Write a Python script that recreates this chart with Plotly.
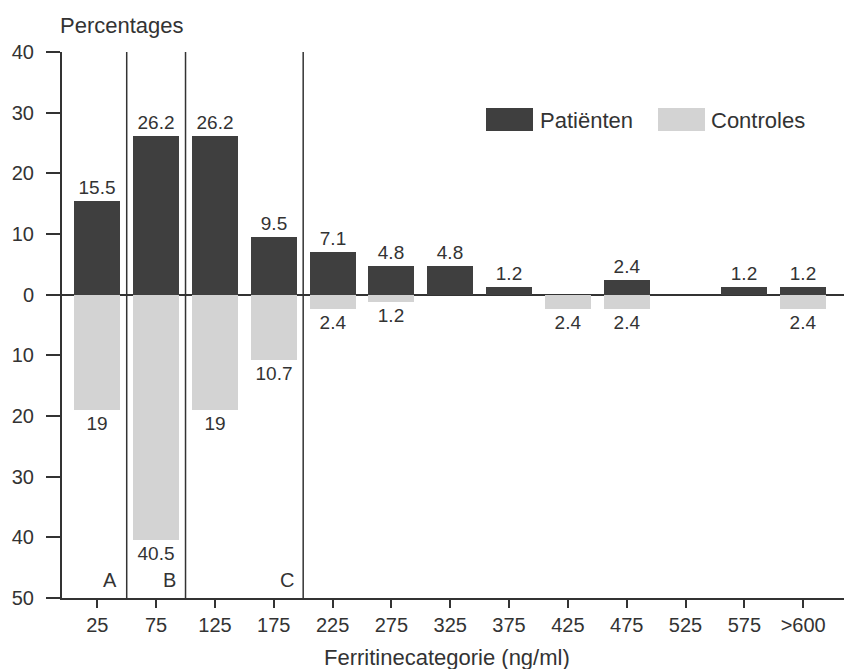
import plotly.graph_objects as go

categories = ["25", "75", "125", "175", "225", "275", "325", "375", "425", "475", "525", "575", ">600"]
patienten = [15.5, 26.2, 26.2, 9.5, 7.1, 4.8, 4.8, 1.2, 0, 2.4, 0, 1.2, 1.2]
controles = [19, 40.5, 19, 10.7, 2.4, 1.2, 0, 0, 2.4, 2.4, 0, 0, 2.4]
y_tickvals = [40, 30, 20, 10, 0, -10, -20, -30, -40, -50]
y_ticktext = ["40", "30", "20", "10", "0", "10", "20", "30", "40", "50"]
groups = ["A", "B", "C"]
group_bounds = [0.5, 1.5, 3.5]

OFF = 8  # page body margin
W, H = 852 - OFF, 669 - OFF
ML, MR, MT = 62 - OFF, 0, 52 - OFF
MB = H - (598 - OFF)
PW, PH = W - ML - MR, H - MT - MB

def fmt(v):
    if v == 0:
        return ""
    return ("%g" % v)

xs = list(range(len(categories)))
INK = "#333333"
FONT = "Liberation Sans, Arial, sans-serif"
NUM = 19
TICK = 20
WORD = 22

fig = go.Figure()
fig.add_trace(go.Bar(x=xs, y=patienten, width=0.78, marker=dict(color="#3f3f3f", line=dict(width=0)),
                     text=[fmt(v) for v in patienten], textposition="outside",
                     textfont=dict(size=NUM, color=INK, family=FONT), cliponaxis=False,
                     name="Patiënten", showlegend=False, opacity=1))
fig.add_trace(go.Bar(x=xs, y=[-v for v in controles], width=0.78, marker=dict(color="#d3d3d3", line=dict(width=0)),
                     text=[fmt(v) for v in controles], textposition="outside",
                     textfont=dict(size=NUM, color=INK, family=FONT), cliponaxis=False,
                     name="Controles", showlegend=False, opacity=1))

shapes = []
for b in group_bounds:
    shapes.append(dict(type="line", xref="x", yref="y", x0=b, x1=b, y0=-50, y1=40,
                       line=dict(color=INK, width=1.5)))

def px2paper_x(p):
    return (p - OFF - ML) / PW

def px2paper_y(p):
    return (H - MB - (p - OFF)) / PH

# legend swatches
shapes.append(dict(type="rect", xref="paper", yref="paper",
                   x0=px2paper_x(486), x1=px2paper_x(533), y0=px2paper_y(131), y1=px2paper_y(108),
                   fillcolor="#3f3f3f", line=dict(width=0)))
shapes.append(dict(type="rect", xref="paper", yref="paper",
                   x0=px2paper_x(658), x1=px2paper_x(705), y0=px2paper_y(131), y1=px2paper_y(108),
                   fillcolor="#d3d3d3", line=dict(width=0)))

annotations = [
    dict(text="Patiënten", xref="paper", yref="paper", x=px2paper_x(538), y=px2paper_y(120),
         xanchor="left", yanchor="middle", showarrow=False, font=dict(size=WORD, color=INK, family=FONT)),
    dict(text="Controles", xref="paper", yref="paper", x=px2paper_x(709), y=px2paper_y(120),
         xanchor="left", yanchor="middle", showarrow=False, font=dict(size=WORD, color=INK, family=FONT)),
    dict(text="Percentages", xref="paper", yref="paper", x=px2paper_x(58), y=px2paper_y(26),
         xanchor="left", yanchor="middle", showarrow=False, font=dict(size=WORD, color=INK, family=FONT)),
    dict(text="Ferritinecategorie (ng/ml)", xref="paper", yref="paper", x=px2paper_x(447), y=px2paper_y(657),
         xanchor="center", yanchor="middle", showarrow=False, font=dict(size=WORD, color=INK, family=FONT)),
]
for g, b in zip(groups, group_bounds):
    annotations.append(dict(text=g, xref="x", yref="y", x=b - 0.13, y=-47, xanchor="right", yanchor="middle",
                            showarrow=False, font=dict(size=20, color=INK, family=FONT)))

fig.update_layout(
    width=W, height=H, margin=dict(l=ML, r=MR, t=MT, b=MB),
    paper_bgcolor="white", plot_bgcolor="white",
    barmode="overlay", bargap=0,
    font=dict(family=FONT, size=NUM, color=INK),
    shapes=shapes, annotations=annotations,
    xaxis=dict(range=[-0.6, 12.83], tickvals=xs, ticktext=categories, showgrid=False, zeroline=False,
               showline=True, linecolor=INK, linewidth=2, ticks="outside", ticklen=8, tickwidth=1.5,
               tickcolor=INK, tickfont=dict(size=TICK, color=INK, family=FONT)),
    yaxis=dict(range=[-50, 40], tickvals=y_tickvals, ticktext=y_ticktext, showgrid=False,
               zeroline=True, zerolinecolor=INK, zerolinewidth=2,
               showline=True, linecolor=INK, linewidth=2, ticks="outside", ticklen=14, tickwidth=1.5,
               tickcolor=INK, ticklabelstandoff=8, tickfont=dict(size=TICK, color=INK, family=FONT)),
)

fig.write_html("out.html")
